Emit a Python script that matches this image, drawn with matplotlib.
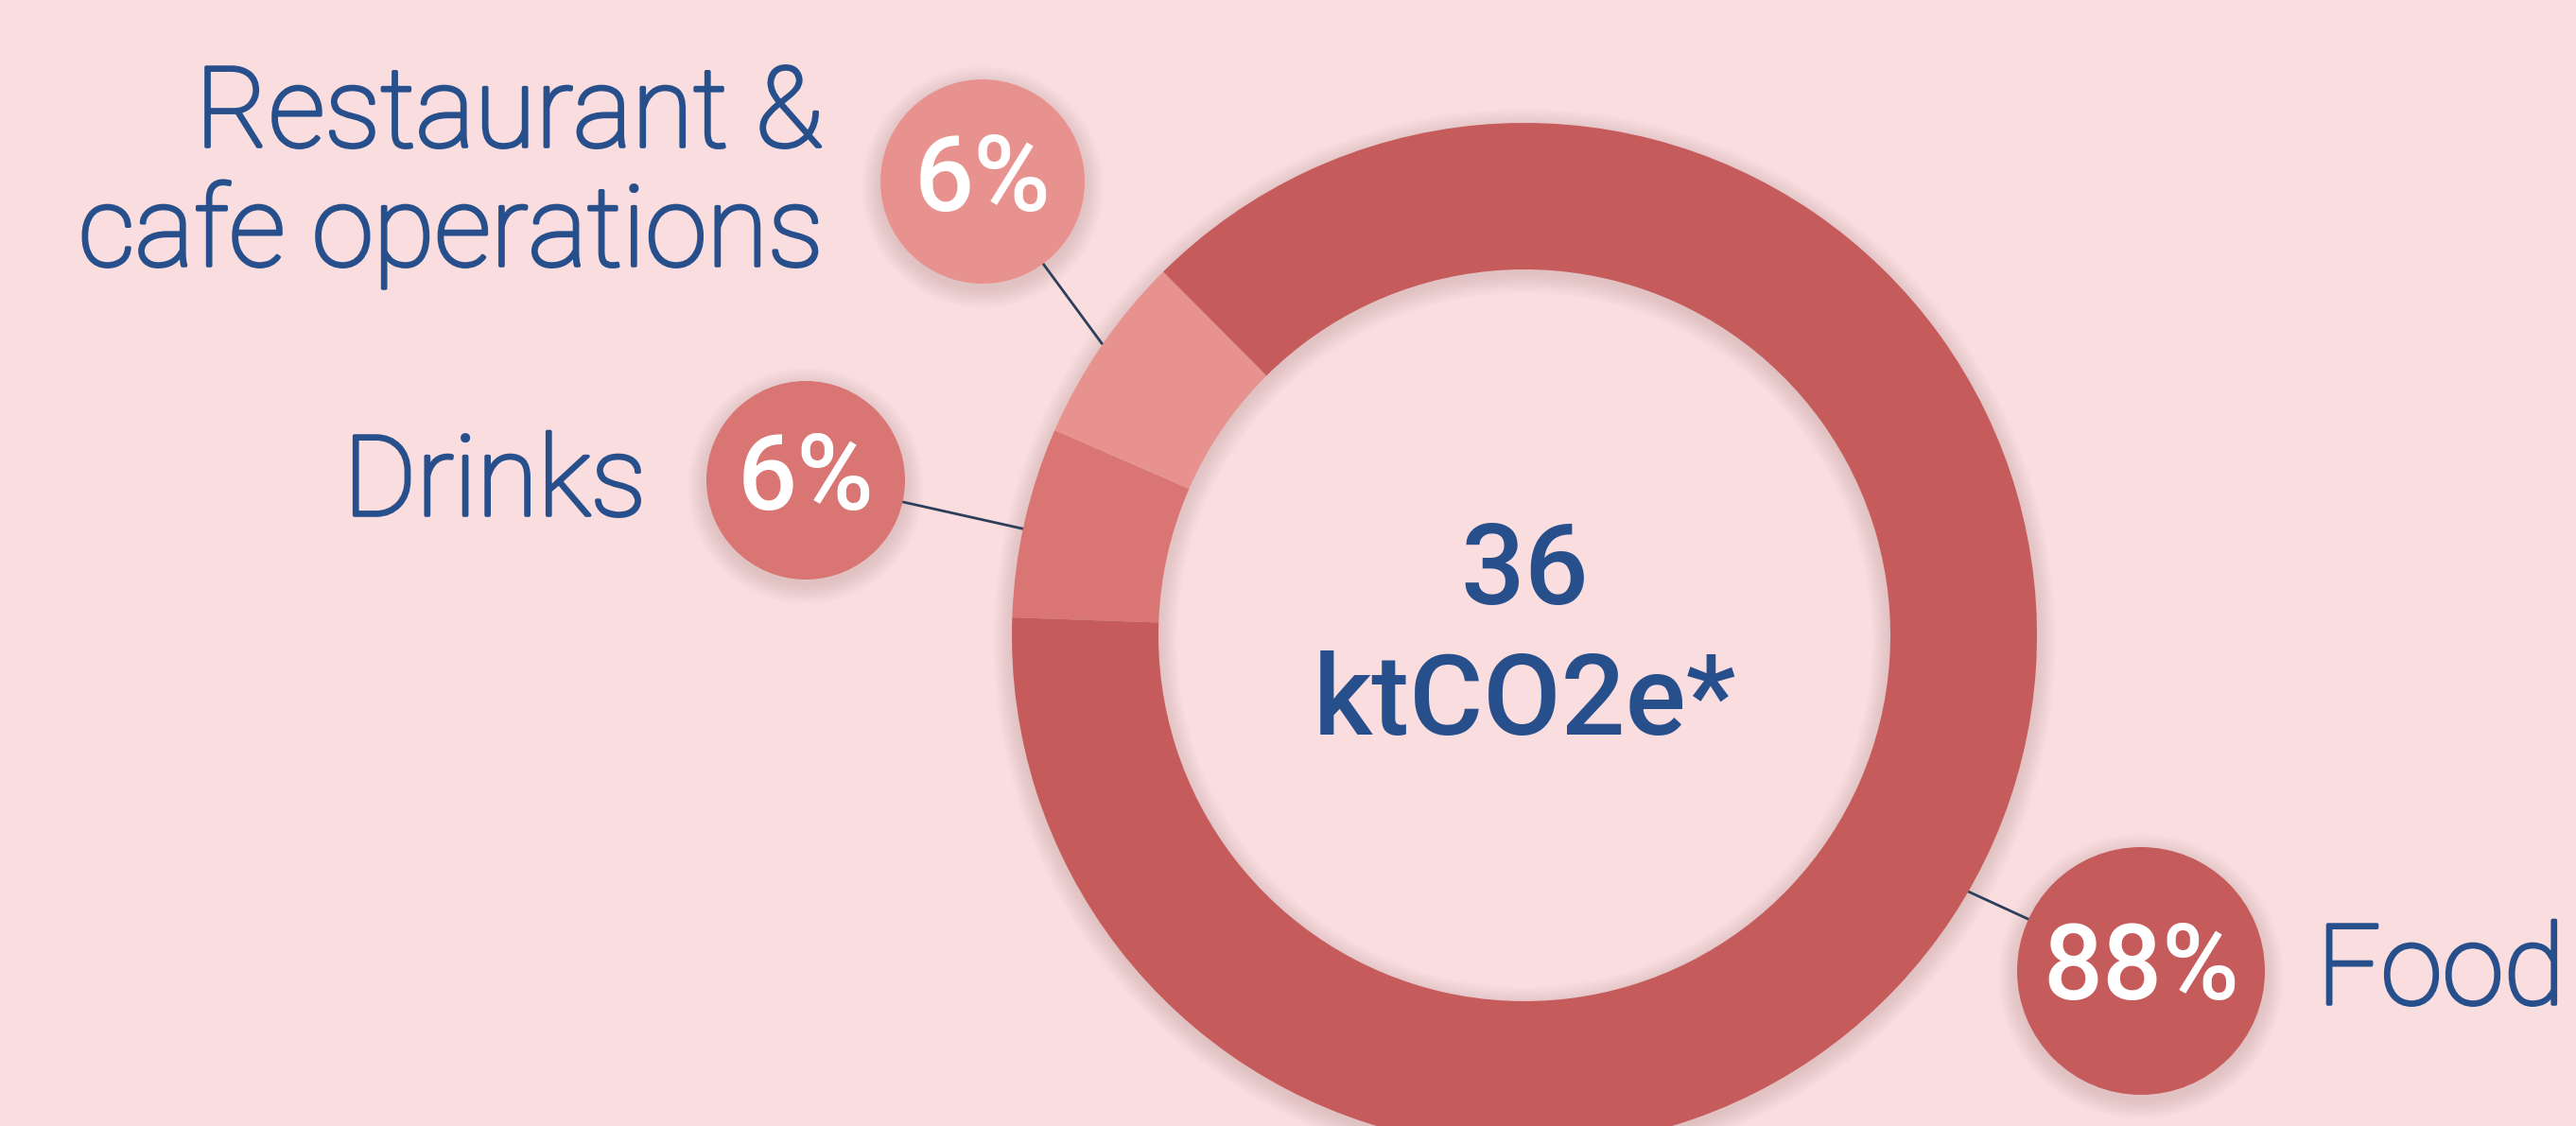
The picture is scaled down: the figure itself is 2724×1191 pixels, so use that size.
import numpy as np
import matplotlib.pyplot as plt
import matplotlib.patheffects as pe
from matplotlib.patches import Circle, Wedge

# Emissions split (percent of total)
categories = ['Drinks', 'Restaurant &\ncafe operations', 'Food']
shares = [6, 6, 88]
total_label = ['36', 'ktCO2e*']

bg = '#FADDDF'
slice_colors = ['#D97573', '#E8928F', '#C65B5B']
navy = '#264F8C'
line_col = '#2B3F5C'

W, H = 2724, 1191
fig = plt.figure(figsize=(W / 100, H / 100), dpi=100, facecolor=bg)
ax = fig.add_axes([0, 0, 1, 1])
ax.set_facecolor(bg)

cx, cy = 1612, H - 672
R, ring_w = 542, 155


def soft_shadow(x, y, r, dx=0, dy=-6, steps=10, spread=2.2, alpha=0.014):
    for k in range(steps):
        ax.add_patch(Circle((x + dx, y + dy), r + k * spread, color='#6a4a4a',
                            alpha=alpha, lw=0, zorder=1))


# shadow round the ring (outside and inside the hole)
for k in range(10):
    ax.add_patch(Wedge((cx, cy - 5), R + k * 2.2, 0, 360, width=ring_w + k * 4.4,
                       color='#6a4a4a', alpha=0.014, lw=0, zorder=1))

wedges, _ = ax.pie(shares, colors=slice_colors, center=(cx, cy), radius=R,
                   startangle=178, counterclock=False,
                   wedgeprops=dict(width=ring_w, linewidth=0))
for w in wedges:
    w.set_zorder(2)

# bubbles: centre, radius, angle on the ring where the leader starts
bubbles = [
    dict(xy=(852, H - 508), r=105, ang=168),
    dict(xy=(1039, H - 192), r=108, ang=145.4),
    dict(xy=(2264, H - 1027), r=131, ang=-30),
]

for b, share, col in zip(bubbles, shares, slice_colors):
    bx, by = b['xy']
    a = np.deg2rad(b['ang'])
    px, py = cx + R * np.cos(a), cy + R * np.sin(a)
    ax.plot([px, bx], [py, by], color=line_col, lw=2.0, zorder=3,
            solid_capstyle='butt')
    soft_shadow(bx, by, b['r'])
    ax.add_patch(Circle((bx, by), b['r'], color=col, lw=0, zorder=4))
    ax.text(bx, by, f'{share}%', ha='center', va='center', color='white',
            fontsize=80, fontfamily='Roboto', fontweight='medium', zorder=5)

# thin face thickened a little with a stroke, close to a light weight
label_kw = dict(color=navy, fontsize=85, fontfamily='Roboto',
                fontweight='light', va='baseline',
                path_effects=[pe.withStroke(linewidth=2.6, foreground=navy)])
ax.text(870, H - 155, 'Restaurant &', ha='right', **label_kw)
ax.text(870, H - 281, 'cafe operations', ha='right', **label_kw)
ax.text(683, H - 545, categories[0], ha='right', **label_kw)
ax.text(2450, H - 1062, categories[2], ha='left', **label_kw)

center_kw = dict(color=navy, fontsize=86, fontfamily='Roboto',
                 fontweight='medium', ha='center', va='baseline')
ax.text(cx, H - 639, total_label[0], **center_kw)
ax.text(cx, H - 777, total_label[1], **center_kw)

ax.set_xlim(0, W)
ax.set_ylim(0, H)
ax.set_aspect('equal')
ax.axis('off')

fig.savefig('out.png', dpi=100, facecolor=bg)
